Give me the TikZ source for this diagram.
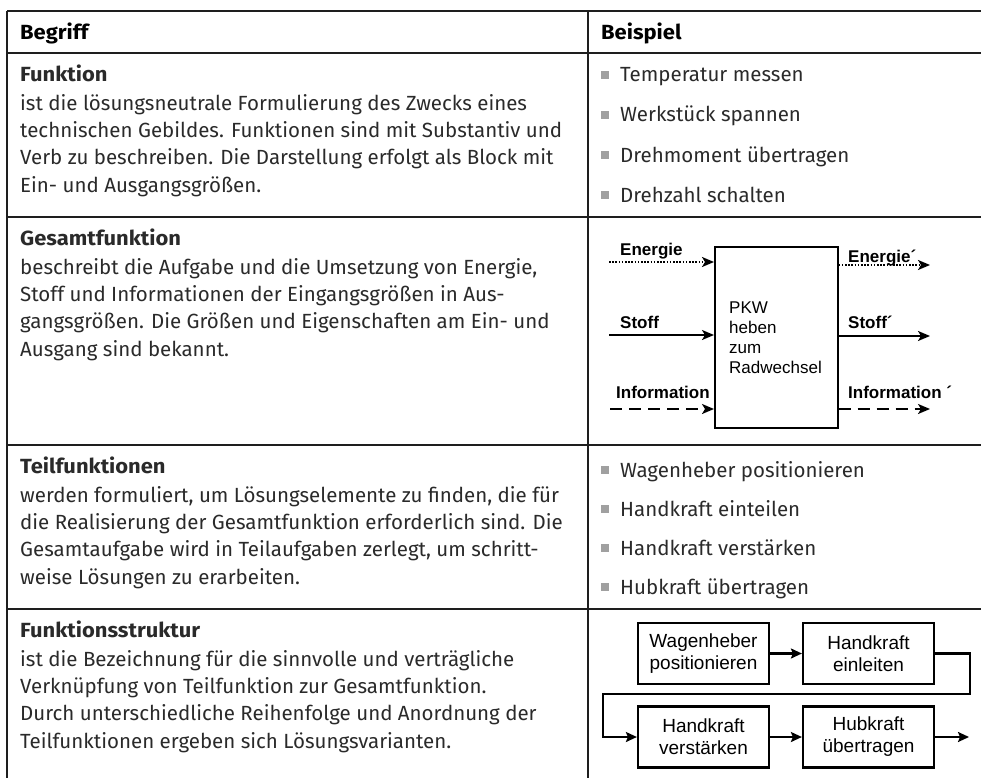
\documentclass[tikz,border=0pt]{standalone}
\usepackage{fontspec}
\setmainfont{Fira Sans}
\newfontfamily\titlefont{Fira Sans}[FakeStretch=1.07]
\newfontfamily\diagfont{Liberation Sans}
\usetikzlibrary{arrows.meta}

\definecolor{rulecol}{HTML}{1E1E1E}
\definecolor{bodytext}{HTML}{2A2A2A}
\definecolor{bulletgray}{HTML}{A0A0A0}

\newcommand{\sectitle}[1]{{\titlefont\bfseries #1}}

\tikzset{
  rulestyle/.style={draw=rulecol, line width=2.4pt},
  body/.style={anchor=north west, inner sep=0pt, align=left, text=bodytext,
    font=\fontsize{20.5}{27.3}\selectfont},
  headtext/.style={anchor=base west, inner sep=0pt, text=black,
    font=\fontsize{20.5}{24}\selectfont\titlefont\bfseries},
  itemtext/.style={anchor=base west, inner sep=0pt, text=bodytext,
    font=\fontsize{20.5}{24}\selectfont},
  bulletsq/.style={fill=bulletgray, draw=none, minimum size=8pt, inner sep=0pt},
  funcblock/.style={draw, line width=1.6pt, inner sep=0pt},
  flowlabel/.style={anchor=base west, inner sep=0pt,
    font=\diagfont\bfseries\fontsize{17}{20}\selectfont},
  flow/.style={line width=1.8pt, -{Stealth[length=12pt,width=10pt,inset=3pt]}},
  dotflow/.style={flow, dash pattern=on 1.6pt off 1.6pt},
  dashflow/.style={flow, dash pattern=on 12pt off 7pt},
  stepbox/.style={draw, line width=2.2pt, minimum width=131pt, minimum height=61pt,
    inner sep=0pt, align=center, font=\diagfont\fontsize{19}{22}\selectfont},
  chain/.style={line width=2.2pt, -{Stealth[length=11pt,width=10pt,inset=2pt]}},
}

\begin{document}
\begin{tikzpicture}[x=1pt,y=-1pt]
  \useasboundingbox (0,0) rectangle (981,778);

  % table rules
  \draw[rulestyle] (7,11) -- (981,11);
  \draw[rulestyle] (7,53) -- (981,53);
  \draw[rulestyle] (7,217) -- (981,217);
  \draw[rulestyle] (7,445) -- (981,445);
  \draw[rulestyle] (7,609) -- (981,609);
  \draw[rulestyle] (7,11) -- (7,778);
  \draw[rulestyle] (588,11) -- (588,778);

  % header
  \node[headtext] (hBegriff) at (20,40) {Begriff};
  \node[headtext] (hBeispiel) at (601,40) {Beispiel};

  % left column
  \node[body] (tFunktion) at (20,61.9) {\sectitle{Funktion}\strut\\[1.7pt]
    ist die lösungsneutrale Formulierung des Zwecks eines\\
    technischen Gebildes. Funktionen sind mit Substantiv und\\
    Verb zu beschreiben. Die Darstellung erfolgt als Block mit\\
    Ein- und Ausgangsgrößen.};
  \node[body] (tGesamt) at (20,225.9) {\sectitle{Gesamtfunktion}\strut\\[1.7pt]
    beschreibt die Aufgabe und die Umsetzung von Energie,\\
    Stoff und Informationen der Eingangsgrößen in Aus-\\
    gangsgrößen. Die Größen und Eigenschaften am Ein- und\\
    Ausgang sind bekannt.};
  \node[body] (tTeil) at (20,453.9) {\sectitle{Teilfunktionen}\strut\\[1.7pt]
    werden formuliert, um Lösungselemente zu finden, die für\\
    die Realisierung der Gesamtfunktion erforderlich sind. Die\\
    Gesamtaufgabe wird in Teilaufgaben zerlegt, um schritt-\\
    weise Lösungen zu erarbeiten.};
  \node[body] (tStruktur) at (20,617.9) {\sectitle{Funktionsstruktur}\strut\\[1.7pt]
    ist die Bezeichnung für die sinnvolle und verträgliche\\
    Verknüpfung von Teilfunktion zur Gesamtfunktion.\\
    Durch unterschiedliche Reihenfolge und Anordnung der\\
    Teilfunktionen ergeben sich Lösungsvarianten.};

  % examples: functions
  \node[bulletsq] (bA1) at (605,75) {};
  \node[itemtext] (iA1) at (620,82) {Temperatur messen};
  \node[bulletsq] (bA2) at (605,115) {};
  \node[itemtext] (iA2) at (620,122) {Werkstück spannen};
  \node[bulletsq] (bA3) at (605,155) {};
  \node[itemtext] (iA3) at (620,162) {Drehmoment übertragen};
  \node[bulletsq] (bA4) at (605,195) {};
  \node[itemtext] (iA4) at (620,202) {Drehzahl schalten};

  % examples: sub-functions
  \node[bulletsq] (bB1) at (605,470) {};
  \node[itemtext] (iB1) at (620,477) {Wagenheber positionieren};
  \node[bulletsq] (bB2) at (605,509) {};
  \node[itemtext] (iB2) at (620,516) {Handkraft einteilen};
  \node[bulletsq] (bB3) at (605,548) {};
  \node[itemtext] (iB3) at (620,555) {Handkraft verstärken};
  \node[bulletsq] (bB4) at (605,587) {};
  \node[itemtext] (iB4) at (620,594) {Hubkraft übertragen};

  % overall function block
  \node[funcblock, minimum width=123pt, minimum height=181pt, anchor=north west]
    (pkw) at (714,246) {};
  \node[anchor=west, inner sep=0pt, align=left,
        font=\diagfont\fontsize{17}{20}\selectfont] (pkwtext) at (729,338)
    {PKW\\heben\\zum\\Radwechsel};

  \coordinate (eIn) at (609,262);
  \coordinate (eOut) at (930,265);
  \coordinate (sIn) at (609,335);
  \coordinate (sOut) at (930,336);
  \coordinate (iIn) at (610,409);
  \coordinate (iOut) at (930,409);

  \draw[dotflow] (eIn) -- (eIn -| pkw.west);
  \draw[dotflow] (pkw.east |- eOut) -- (eOut);
  \draw[flow] (sIn) -- (sIn -| pkw.west);
  \draw[flow] (pkw.east |- sOut) -- (sOut);
  \draw[dashflow] (iIn) -- (iIn -| pkw.west);
  \draw[dashflow] (pkw.east |- iOut) -- (iOut);

  \node[flowlabel] (lE) at (620,255) {Energie};
  \node[flowlabel] (lS) at (620,328) {Stoff};
  \node[flowlabel] (lI) at (616,398) {Information};
  \node[flowlabel] (lE2) at (848,262) {Energie´};
  \node[flowlabel] (lS2) at (848,328) {Stoff´};
  \node[flowlabel] (lI2) at (848,398) {Information ´};

  % function structure
  \node[stepbox] (s1) at (703.5,653.5) {Wagenheber\\positionieren};
  \node[stepbox] (s2) at (868.5,653.5) {Handkraft\\einleiten};
  \node[stepbox] (s3) at (703.5,737) {Handkraft\\verstärken};
  \node[stepbox] (s4) at (868.5,737) {Hubkraft\\übertragen};
  \coordinate (outEnd) at (969,737);

  \draw[chain] (s1) -- (s2);
  \draw[chain] (s2.east) -- ++(35,0) |- (603,694) |- (s3.west);
  \draw[chain] (s3) -- (s4);
  \draw[chain] (s4.east) -- (outEnd);
\end{tikzpicture}
\end{document}
